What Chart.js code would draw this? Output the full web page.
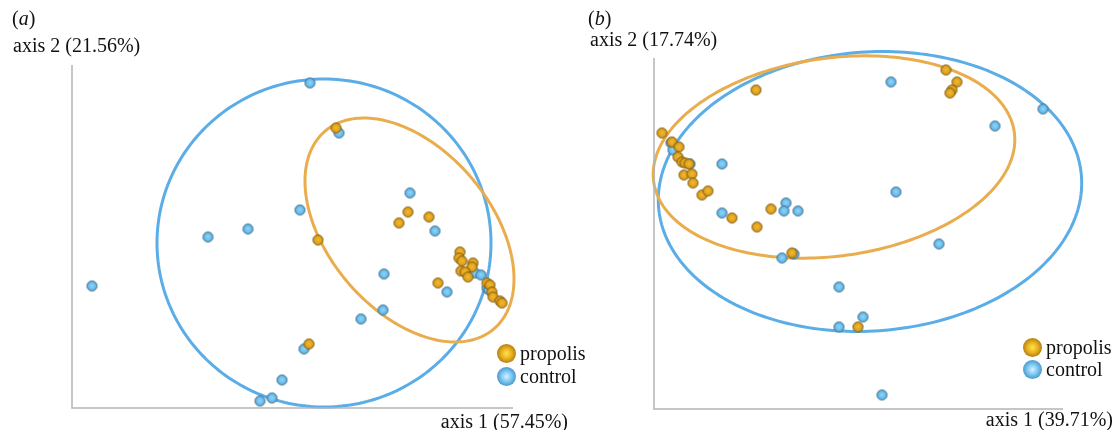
<!DOCTYPE html>
<html lang="en">

<head>
    <meta charset="UTF-8">
    <title>PCoA propolis vs control</title>
    <script src="https://cdn.jsdelivr.net/npm/chart.js"></script>
    <style>
        body {
            margin: 0;
            background: #fff;
        }

        #wrap {
            position: relative;
            width: 1117px;
            height: 430px;
            font-family: "Liberation Serif", "DejaVu Serif", serif;
            color: #111;
        }

        .box {
            position: absolute;
            top: 0;
            height: 430px;
        }

        .lbl {
            position: absolute;
            font-size: 20px;
            line-height: 20px;
            white-space: nowrap;
        }

        .lbl i {
            font-style: italic;
        }

        /* legend rows: sphere + text */
        .leg {
            position: absolute;
            display: flex;
            align-items: center;
            height: 20px;
            font-size: 20px;
            line-height: 20px;
        }

        .ball {
            width: 19px;
            height: 19px;
            border-radius: 50%;
            margin-right: 4px;
            box-sizing: border-box;
        }

        .ball.pro {
            background: radial-gradient(circle at 50% 50%, #ffe44a 0%, #e8b020 40%, #a87410 78%, #5c4006 100%);
        }

        .ball.ctl {
            background: radial-gradient(circle at 50% 50%, #d4f2ff 0%, #7cc6f0 40%, #3f8fc4 78%, #2a4f6a 100%);
        }
    </style>
</head>

<body>
    <div id="wrap">
        <div class="box" style="left:0;width:560px"><canvas id="chartA"></canvas></div>
        <div class="box" style="left:560px;width:557px"><canvas id="chartB"></canvas></div>

        <div class="lbl" style="left:12px;top:8px">(<i>a</i>)</div>
        <div class="lbl" style="left:13px;top:35px">axis 2 (21.56%)</div>
        <div class="lbl" style="right:549px;top:411px">axis 1 (57.45%)</div>
        <div class="leg" style="left:497px;top:343px"><div class="ball pro"></div>propolis</div>
        <div class="leg" style="left:497px;top:366px"><div class="ball ctl"></div>control</div>

        <div class="lbl" style="left:588px;top:8px">(<i>b</i>)</div>
        <div class="lbl" style="left:590px;top:29px">axis 2 (17.74%)</div>
        <div class="lbl" style="right:4px;top:409px">axis 1 (39.71%)</div>
        <div class="leg" style="left:1023px;top:337px"><div class="ball pro"></div>propolis</div>
        <div class="leg" style="left:1023px;top:359px"><div class="ball ctl"></div>control</div>
    </div>

    <script>
        // panel (a): axis 1 vs axis 2 scores (no ticks in the figure, arbitrary units)
        const controlA = [[238, 325], [267, 275], [228, 198], [176, 179], [136, 171], [20, 122], [338, 215],
            [363, 177], [312, 134], [311, 98], [289, 89], [375, 116], [403, 135], [409, 133], [415, 120],
            [417, 118], [232, 59], [210, 28], [200, 10], [188, 7]];
        const propolisA = [[264, 280], [246, 168], [336, 196], [327, 185], [357, 191], [366, 125], [237, 64],
            [388, 156], [387, 150], [390, 147], [401, 145], [400, 141], [389, 137], [393, 136], [396, 131],
            [415, 125], [418, 123], [420, 116], [421, 111], [428, 107], [430, 105]];

        // panel (b)
        const controlB = [[17, 266], [19, 259], [36, 245], [68, 245], [68, 196], [132, 206], [130, 198],
            [144, 198], [128, 151], [140, 155], [237, 327], [389, 300], [341, 283], [242, 217], [285, 165],
            [185, 122], [209, 92], [185, 82], [228, 14]];
        const propolisB = [[102, 319], [8, 276], [18, 267], [25, 262], [24, 252], [28, 247], [31, 246],
            [35, 245], [30, 234], [38, 235], [39, 226], [48, 214], [54, 218], [78, 191], [103, 182],
            [117, 200], [138, 156], [292, 339], [303, 327], [298, 319], [296, 316], [204, 82]];

        // ellipses: [centre x, centre y, semi-axis a, semi-axis b, angle in degrees]
        const ellipseControlA = [252, 165, 167, 164, 0];
        const ellipsePropolisA = [337.5, 178, 130, 81, -49.5];
        const ellipseControlB = [216, 217.5, 212, 139.5, 4];
        const ellipsePropolisB = [180, 252, 182, 99, 7.8];

        const rangeA = [441, 343];
        const rangeB = [409, 351];

        const BLUE_LINE = '#5aade6';
        const ORANGE_LINE = '#e9ad4e';

        function makeDot(light, mid, edge) {
            let r = 5.5;
            let c = document.createElement('canvas');
            c.width = 13;
            c.height = 13;
            let g = c.getContext('2d');
            let grad = g.createRadialGradient(6.5, 6.2, 0.5, 6.5, 6.5, r);
            grad.addColorStop(0, light);
            grad.addColorStop(0.75, mid);
            grad.addColorStop(1, mid);
            g.beginPath();
            g.arc(6.5, 6.5, r - 0.5, 0, Math.PI * 2);
            g.fillStyle = grad;
            g.fill();
            g.lineWidth = 1;
            g.strokeStyle = edge;
            g.stroke();
            return c;
        }

        const dotControl = makeDot('#8fd2f6', '#5fb5e8', '#3e6c8a');
        const dotPropolis = makeDot('#f0b830', '#dc9c18', '#7a5812');

        function toPoints(arr) {
            return arr.map(p => ({ x: p[0], y: p[1] }));
        }

        // draws the confidence ellipses and the two axis lines
        const framePlugin = {
            id: 'frame',
            beforeDatasetsDraw(chart, args, opts) {
                let ctx = chart.ctx;
                let xs = chart.scales.x, ys = chart.scales.y;
                opts.ellipses.forEach(e => {
                    let [cx, cy, a, b, ang] = e.p;
                    let t = ang * Math.PI / 180;
                    ctx.save();
                    ctx.beginPath();
                    for (let i = 0; i <= 240; i++) {
                        let u = i / 240 * Math.PI * 2;
                        let x = cx + a * Math.cos(u) * Math.cos(t) - b * Math.sin(u) * Math.sin(t);
                        let y = cy + a * Math.cos(u) * Math.sin(t) + b * Math.sin(u) * Math.cos(t);
                        let px = xs.getPixelForValue(x), py = ys.getPixelForValue(y);
                        if (i === 0) ctx.moveTo(px, py); else ctx.lineTo(px, py);
                    }
                    ctx.closePath();
                    ctx.strokeStyle = e.color;
                    ctx.lineWidth = 3;
                    ctx.stroke();
                    ctx.restore();
                });
                let area = chart.chartArea;
                ctx.save();
                ctx.strokeStyle = '#b4b4b4';
                ctx.lineWidth = 1.5;
                ctx.beginPath();
                ctx.moveTo(area.left, area.top);
                ctx.lineTo(area.left, area.bottom);
                ctx.lineTo(area.right, area.bottom);
                ctx.stroke();
                ctx.restore();
            }
        };

        function renderChart(canvasId, control, propolis, range, padding, ellControl, ellPropolis) {
            let ctx = document.getElementById(canvasId).getContext('2d');
            new Chart(ctx, {
                type: 'scatter',
                data: {
                    datasets: [{
                        label: 'propolis',
                        data: toPoints(propolis),
                        pointStyle: dotPropolis,
                        pointRadius: 5
                    }, {
                        label: 'control',
                        data: toPoints(control),
                        pointStyle: dotControl,
                        pointRadius: 5
                    }]
                },
                options: {
                    responsive: true,
                    maintainAspectRatio: false,
                    animation: false,
                    events: [],
                    layout: { padding: padding },
                    scales: {
                        x: { type: 'linear', min: 0, max: range[0], display: false },
                        y: { type: 'linear', min: 0, max: range[1], display: false }
                    },
                    plugins: {
                        legend: { display: false },
                        tooltip: { enabled: false },
                        frame: {
                            ellipses: [
                                { p: ellControl, color: BLUE_LINE },
                                { p: ellPropolis, color: ORANGE_LINE }
                            ]
                        }
                    }
                },
                plugins: [framePlugin]
            });
        }

        renderChart('chartA', controlA, propolisA, rangeA, { left: 72, right: 47, top: 65, bottom: 22 }, ellipseControlA, ellipsePropolisA);
        renderChart('chartB', controlB, propolisB, rangeB, { left: 94, right: 54, top: 58, bottom: 21 }, ellipseControlB, ellipsePropolisB);
    </script>
</body>

</html>
